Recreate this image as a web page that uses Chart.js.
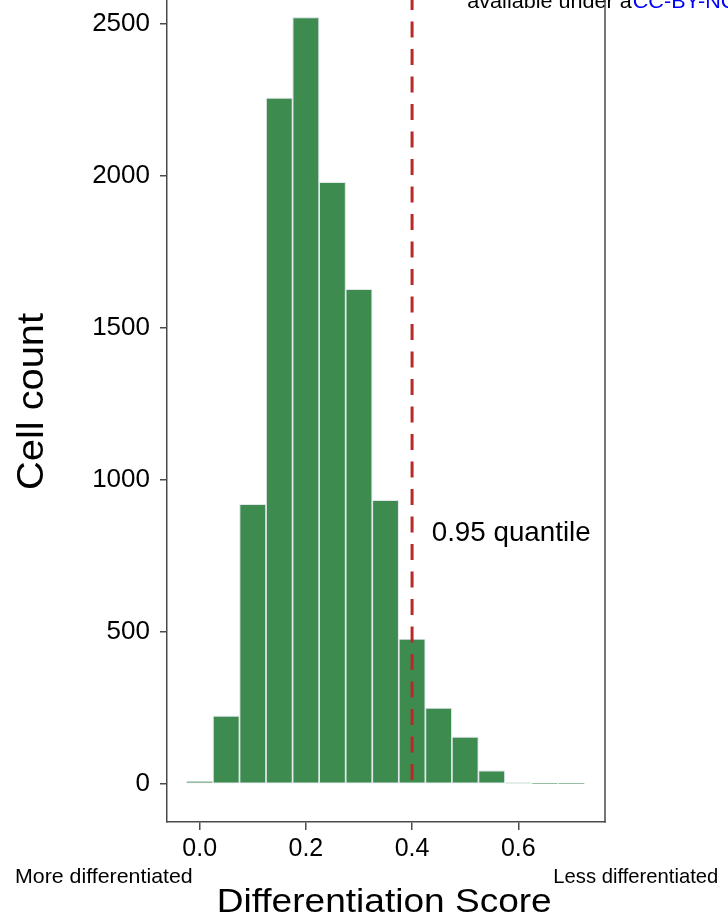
<!DOCTYPE html>
<html><head><meta charset="utf-8">
<script src="https://cdn.jsdelivr.net/npm/chart.js@4/dist/chart.umd.min.js"></script>
<style>html,body{margin:0;padding:0;background:#fff;overflow:hidden;} #wrap{width:728px;height:923px;}</style>
</head><body><div id="wrap"><canvas id="c" width="728" height="923"></canvas></div>
<script>
// ---- data ----
const binCenters = [0.00, 0.05, 0.10, 0.15, 0.20, 0.25, 0.30, 0.35, 0.40, 0.45, 0.50, 0.55, 0.60, 0.65, 0.70];
const cellCounts = [10, 224, 921, 2257, 2522, 1980, 1628, 934, 477, 250, 155, 44, 4, 1, 1];
const xTickValues = [0.0, 0.2, 0.4, 0.6];
const yTickValues = [0, 500, 1000, 1500, 2000, 2500];
const quantile95 = 0.4;
const xTitle = 'Differentiation Score';
const yTitle = 'Cell count';
const quantileLabel = '0.95 quantile';
const leftNote = 'More differentiated';
const rightNote = 'Less differentiated';
const licenseText = 'available under a';
const licenseLink = 'CC-BY-NC';

const FONT = '"Liberation Sans", Arial, Helvetica, sans-serif';
const AXIS_COLOR = '#4a4a4a';

function fitText(c, txt, x, y, size, w, color) {
  c.save();
  c.font = size + 'px ' + FONT;
  const m = c.measureText(txt).width;
  c.translate(x, y);
  c.scale(w / m, 1);
  c.fillStyle = color;
  c.textBaseline = 'alphabetic';
  c.textAlign = 'left';
  c.fillText(txt, 0, 0);
  c.restore();
}

function noPad(s) { s.paddingTop = 0; s.paddingBottom = 0; s.paddingLeft = 0; s.paddingRight = 0; }

const extras = {
  id: 'extras',
  beforeDraw(chart) {
    const c = chart.ctx;
    c.save(); c.fillStyle = '#fff'; c.fillRect(0, 0, chart.width, chart.height); c.restore();
  },
  afterDatasetsDraw(chart) {
    const c = chart.ctx, xs = chart.scales.x, ys = chart.scales.y, a = chart.chartArea;
    const x = xs.getPixelForValue(quantile95);
    c.save();
    c.strokeStyle = '#b8292a';
    c.lineWidth = 3;
    c.setLineDash([16, 11.5]);
    c.lineDashOffset = 6;
    c.beginPath();
    c.moveTo(x, a.top);
    c.lineTo(x, ys.getPixelForValue(0));
    c.stroke();
    c.restore();
  },
  afterDraw(chart) {
    const c = chart.ctx, a = chart.chartArea;
    fitText(c, quantileLabel, 431.7, 540.7, 28, 159, '#000');
    fitText(c, leftNote, 15, 883.3, 21, 177.7, '#000');
    fitText(c, rightNote, 553.3, 882.7, 21, 165, '#000');
    fitText(c, xTitle, 216.7, 911.7, 33, 335, '#000');
    // rotated y title
    c.save();
    c.font = '37px ' + FONT;
    const m = c.measureText(yTitle).width;
    const len = 177;
    c.translate(42.7, 401.5 + len / 2);
    c.rotate(-Math.PI / 2);
    c.scale(len / m, 1);
    c.fillStyle = '#000';
    c.textBaseline = 'alphabetic';
    c.textAlign = 'left';
    c.fillText(yTitle, 0, 0);
    c.restore();
    // license text at top (cut off)
    c.save();
    c.font = '20px ' + FONT;
    const w1 = c.measureText(licenseText).width;
    const s = 164.4 / w1;
    c.translate(467.3, 8.3);
    c.scale(s, 1);
    c.fillStyle = '#000';
    c.fillText(licenseText, 0, 0);
    c.fillStyle = '#0000ff';
    c.fillText(licenseLink, w1 + 1, 0);
    c.restore();
    // right panel border
    c.save();
    c.strokeStyle = AXIS_COLOR;
    c.lineWidth = 1.5;
    c.beginPath();
    c.moveTo(a.right, a.top);
    c.lineTo(a.right, a.bottom + 0.75);
    c.stroke();
    c.restore();
  }
};

new Chart(document.getElementById('c').getContext('2d'), {
  type: 'bar',
  data: {
    datasets: [{
      data: binCenters.map((x, i) => ({ x: x, y: cellCounts[i] })),
      backgroundColor: '#3d8b4e',
      borderColor: '#e2e7ec',
      borderWidth: 1.2,
      borderSkipped: false,
      barPercentage: 1,
      categoryPercentage: 1
    }]
  },
  options: {
    responsive: false,
    animation: false,
    devicePixelRatio: 1,
    layout: { padding: { left: 0, right: 123, top: 0, bottom: 0 } },
    plugins: { legend: { display: false }, tooltip: { enabled: false } },
    scales: {
      x: {
        type: 'linear',
        min: -0.0615, max: 0.7633,
        offset: false,
        afterBuildTicks: s => { s.ticks = xTickValues.map(v => ({ value: v })); },
        afterFit: s => { s.height = 101; noPad(s); },
        grid: { display: true, offset: false, drawOnChartArea: false, drawTicks: true, tickLength: 8, color: AXIS_COLOR, lineWidth: 1.5 },
        border: { display: true, color: AXIS_COLOR, width: 1.5 },
        ticks: { font: { family: FONT, size: 25 }, color: '#000', padding: 4, maxRotation: 0, autoSkip: false,
                 callback: v => Number(v).toFixed(1) }
      },
      y: {
        min: -125, max: 2579,
        afterBuildTicks: s => { s.ticks = yTickValues.map(v => ({ value: v })); },
        afterFit: s => { s.width = 167; noPad(s); },
        grid: { display: true, drawOnChartArea: false, drawTicks: true, tickLength: 7, color: AXIS_COLOR, lineWidth: 1.5 },
        border: { display: true, color: AXIS_COLOR, width: 1.5 },
        ticks: { font: { family: FONT, size: 26 }, color: '#000', padding: 10, autoSkip: false,
                 callback: v => String(v) }
      }
    }
  },
  plugins: [extras]
});
</script>
</body></html>
